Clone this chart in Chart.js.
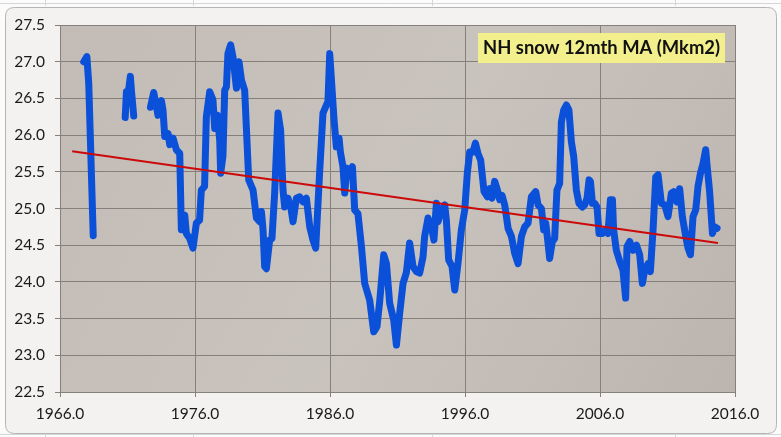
<!DOCTYPE html>
<html>
<head>
<meta charset="utf-8">
<script src="https://cdn.jsdelivr.net/npm/chart.js@4.4.1/dist/chart.umd.min.js"></script>
<style>
  html, body { margin: 0; padding: 0; background: #ffffff; }
  #wrap { position: relative; width: 781px; height: 437px; }
  canvas { display: block; }
</style>
</head>
<body>
<div id="wrap"><canvas id="c" width="781" height="437"></canvas></div>
<script>
// ---- Data ----
const titleText = "NH snow 12mth MA (Mkm2)";

const years = [
  1967.76, 1967.99, 1968.13, 1968.46, 1969.6,
  1970.83, 1970.92, 1971.04, 1971.21, 1971.29, 1971.46, 1972.1,
  1972.70, 1972.94, 1973.14, 1973.26, 1973.51, 1973.63, 1973.76, 1974.00, 1974.13, 1974.37,
  1974.62, 1974.87, 1974.99, 1975.24, 1975.36, 1975.61, 1975.85, 1976.10, 1976.34, 1976.47,
  1976.71, 1976.84, 1977.09, 1977.33, 1977.46, 1977.66, 1977.83, 1977.90, 1978.07, 1978.20,
  1978.33, 1978.44, 1978.64, 1978.81, 1979.07, 1979.26, 1979.44, 1979.68, 1979.98, 1980.30,
  1980.55, 1980.79, 1980.92, 1981.04, 1981.16, 1981.29, 1981.53, 1981.70, 1981.90, 1982.15,
  1982.34, 1982.52, 1982.64, 1982.89, 1983.09, 1983.26, 1983.51, 1983.76, 1984.00, 1984.25,
  1984.50, 1984.74, 1984.94, 1985.24, 1985.48, 1985.85, 1985.98, 1986.10, 1986.30, 1986.47,
  1986.67, 1986.77, 1986.96, 1987.09, 1987.26, 1987.46, 1987.66, 1987.83, 1988.07, 1988.33,
  1988.57, 1988.94, 1989.24, 1989.48, 1989.68, 1989.98, 1990.18, 1990.42, 1990.72, 1990.92,
  1991.16, 1991.41, 1991.66, 1991.90, 1992.15, 1992.40, 1992.64, 1992.89, 1993.01, 1993.26,
  1993.51, 1993.70, 1993.88, 1994.00, 1994.25, 1994.50, 1994.62, 1994.79, 1995.04, 1995.24,
  1995.48, 1995.73, 1995.98, 1996.18, 1996.35, 1996.59, 1996.77, 1996.96, 1997.16, 1997.41,
  1997.66, 1997.83, 1998.00, 1998.20, 1998.40, 1998.57, 1998.74, 1998.94, 1999.19, 1999.44,
  1999.68, 1999.93, 2000.18, 2000.42, 2000.67, 2000.92, 2001.24, 2001.41, 2001.66, 2001.83,
  2001.98, 2002.15, 2002.27, 2002.47, 2002.64, 2002.81, 2003.01, 2003.14, 2003.31, 2003.51,
  2003.70, 2003.88, 2004.05, 2004.25, 2004.44, 2004.70, 2004.87, 2005.04, 2005.19, 2005.29,
  2005.44, 2005.61, 2005.78, 2005.93, 2006.18, 2006.42, 2006.59, 2006.77, 2006.92, 2007.01,
  2007.21, 2007.46, 2007.70, 2007.90, 2008.00, 2008.20, 2008.44, 2008.70, 2008.94, 2009.14,
  2009.31, 2009.56, 2009.73, 2009.93, 2010.13, 2010.30, 2010.55, 2010.79, 2011.04, 2011.29,
  2011.46, 2011.70, 2011.90, 2012.10, 2012.35, 2012.52, 2012.70, 2012.89, 2013.09, 2013.26,
  2013.44, 2013.63, 2013.83, 2013.93, 2014.12, 2014.33, 2014.50, 2014.67
];

// null = gap in the record
const snow = [
  27.00, 27.07, 26.70, 24.63, null,
  26.24, 26.59, 26.55, 26.80, 26.61, 26.26, null,
  26.38, 26.58, 26.39, 26.27, 26.47, 26.34, 25.98, 26.02, 25.87, 25.96,
  25.80, 25.75, 24.71, 24.91, 24.66, 24.59, 24.46, 24.80, 24.84, 25.25,
  25.30, 26.25, 26.59, 26.48, 26.09, 26.27, 25.93, 25.48, 25.71, 26.61,
  26.66, 27.11, 27.23, 27.07, 26.64, 27.00, 26.75, 26.61, 25.39, 25.25,
  24.87, 24.82, 24.96, 24.71, 24.21, 24.18, 24.57, 24.59, 25.21, 26.30,
  26.07, 25.25, 25.02, 25.14, 25.02, 24.82, 25.14, 25.16, 25.09, 25.14,
  24.75, 24.57, 24.46, 25.52, 26.30, 26.46, 27.11, 26.77, 26.21, 25.84,
  25.96, 25.77, 25.57, 25.21, 25.55, 25.48, 25.57, 24.98, 24.93, 24.48,
  23.98, 23.75, 23.32, 23.39, 23.73, 24.37, 24.25, 23.71, 23.48, 23.14,
  23.57, 23.98, 24.13, 24.53, 24.21, 24.14, 24.12, 24.34, 24.62, 24.87,
  24.75, 24.57, 25.07, 24.82, 24.98, 25.05, 24.84, 24.30, 24.21, 23.89,
  24.25, 24.71, 24.98, 25.50, 25.77, 25.77, 25.89, 25.75, 25.66, 25.23,
  25.16, 25.27, 25.14, 25.37, 25.25, 25.12, 25.18, 25.05, 24.73, 24.62,
  24.39, 24.25, 24.62, 24.75, 24.80, 25.16, 25.23, 25.05, 25.00, 24.71,
  24.80, 24.53, 24.32, 24.55, 24.59, 25.25, 25.34, 26.18, 26.34, 26.41,
  26.34, 25.91, 25.71, 25.25, 25.07, 25.02, 25.05, 25.14, 25.39, 25.37,
  25.07, 25.07, 25.02, 24.66, 24.66, 24.71, 24.66, 25.12, 25.12, 24.71,
  24.43, 24.28, 24.16, 23.78, 24.48, 24.55, 24.43, 24.50, 24.37, 23.98,
  24.16, 24.25, 24.14, 24.71, 25.43, 25.46, 25.07, 25.05, 24.89, 25.21,
  25.23, 25.09, 25.27, 24.89, 24.62, 24.46, 24.37, 24.89, 24.98, 25.30,
  25.48, 25.61, 25.80, 25.59, 25.23, 24.66, 24.75, 24.73
];

// linear trend end points
const trendYears = [1966.9, 2014.74];
const trendValues = [25.78, 24.53];

// axis ticks
const xTicks = [1966, 1976, 1986, 1996, 2006, 2016];
const yTicks = [22.5, 23.0, 23.5, 24.0, 24.5, 25.0, 25.5, 26.0, 26.5, 27.0, 27.5];

// ---- Styling ----
const FONT = "Lato, 'Open Sans', 'DejaVu Sans', sans-serif";
const GRID = '#86807b';

const snowData = years.map((x, i) => ({ x: x, y: snow[i] }));
const trendData = trendYears.map((x, i) => ({ x: x, y: trendValues[i] }));

function roundRect(ctx, x, y, w, h, r) {
  ctx.beginPath();
  ctx.moveTo(x + r, y);
  ctx.lineTo(x + w - r, y);
  ctx.quadraticCurveTo(x + w, y, x + w, y + r);
  ctx.lineTo(x + w, y + h - r);
  ctx.quadraticCurveTo(x + w, y + h, x + w - r, y + h);
  ctx.lineTo(x + r, y + h);
  ctx.quadraticCurveTo(x, y + h, x, y + h - r);
  ctx.lineTo(x, y + r);
  ctx.quadraticCurveTo(x, y, x + r, y);
  ctx.closePath();
}

const backgroundPlugin = {
  id: 'bg',
  beforeDraw(chart) {
    const ctx = chart.ctx;
    const W = chart.width, H = chart.height;
    ctx.save();
    ctx.fillStyle = '#fbfbfb';
    ctx.fillRect(0, 0, W, H);
    ctx.strokeStyle = '#d6d6d6';
    ctx.lineWidth = 1;
    ctx.beginPath();
    ctx.moveTo(0, 3.5); ctx.lineTo(W, 3.5);
    ctx.moveTo(0, 434.5); ctx.lineTo(W, 434.5);
    [45.5, 193.5, 432.5, 675.5].forEach(x => { ctx.moveTo(x, 0); ctx.lineTo(x, 6); ctx.moveTo(x, 432); ctx.lineTo(x, H); });
    ctx.stroke();
    roundRect(ctx, 5.5, 7.5, 771, 426, 9);
    ctx.fillStyle = '#f3f2f0';
    ctx.fill();
    ctx.strokeStyle = '#b4b4b4';
    ctx.stroke();
    const a = chart.chartArea;
    const g = ctx.createLinearGradient(a.left, a.top, a.right, a.bottom);
    g.addColorStop(0, '#c2bbb6');
    g.addColorStop(0.5, '#c9c3be');
    g.addColorStop(1, '#bcb4af');
    ctx.fillStyle = g;
    ctx.fillRect(a.left, a.top, a.right - a.left, a.bottom - a.top);
    ctx.restore();
  },
  afterDraw(chart) {
    const ctx = chart.ctx;
    ctx.save();
    ctx.fillStyle = '#f3ef8c';
    ctx.fillRect(478, 33, 247, 30);
    // fit the title text to the box width seen in the reference
    let size = 18;
    ctx.font = "bold " + size + "px " + FONT;
    const w = ctx.measureText(titleText).width;
    size = Math.max(12, Math.min(22, size * 237 / w));
    ctx.font = "bold " + size.toFixed(1) + "px " + FONT;
    ctx.fillStyle = '#111111';
    ctx.textBaseline = 'middle';
    ctx.textAlign = 'left';
    ctx.fillText(titleText, 483, 48.5);
    ctx.restore();
  }
};

Chart.defaults.font.family = FONT;
Chart.defaults.font.size = 15;
Chart.defaults.color = '#1a1a1a';

new Chart(document.getElementById('c'), {
  type: 'line',
  data: {
    datasets: [
      {
        label: 'Trend',
        data: trendData,
        borderColor: '#cc0a0a',
        borderWidth: 2,
        pointRadius: 0,
        tension: 0,
        order: 0
      },
      {
        label: titleText,
        data: snowData,
        borderColor: '#0b50d8',
        borderWidth: 7,
        pointRadius: 0,
        tension: 0,
        spanGaps: false,
        borderCapStyle: 'round',
        borderJoinStyle: 'round',
        order: 1
      }
    ]
  },
  options: {
    responsive: false,
    animation: false,
    devicePixelRatio: 1,
    layout: { padding: { left: 0, right: 46, top: 25, bottom: 15 } },
    plugins: { legend: { display: false }, tooltip: { enabled: false } },
    scales: {
      x: {
        type: 'linear',
        min: xTicks[0],
        max: xTicks[xTicks.length - 1],
        afterBuildTicks: s => { s.ticks = xTicks.map(v => ({ value: v })); },
        afterFit: s => { s.height = 30; },
        ticks: { callback: v => Number(v).toFixed(1), padding: 8, maxRotation: 0, font: { size: 15.5 } },
        grid: { color: GRID, lineWidth: 1, tickLength: 5, tickColor: GRID },
        border: { color: GRID, width: 1 }
      },
      y: {
        min: yTicks[0],
        max: yTicks[yTicks.length - 1],
        afterBuildTicks: s => { s.ticks = yTicks.map(v => ({ value: v })); },
        afterFit: s => { s.width = 60; },
        ticks: { callback: v => Number(v).toFixed(1), padding: 10, font: { size: 15.5 } },
        grid: { color: GRID, lineWidth: 1, tickLength: 5, tickColor: GRID },
        border: { color: GRID, width: 1 }
      }
    }
  },
  plugins: [backgroundPlugin]
});
</script>
</body>
</html>
